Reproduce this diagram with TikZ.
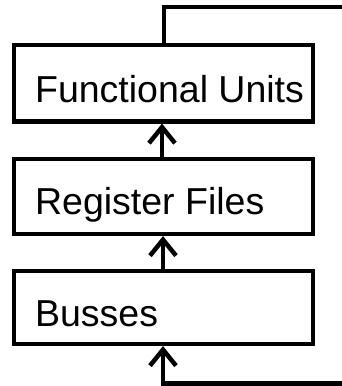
\documentclass[tikz,border=0pt]{standalone}
\usepackage{fontspec}
\setmainfont{Liberation Sans}
\usetikzlibrary{arrows.meta}
\begin{document}
\begin{tikzpicture}[x=1pt,y=-1pt,
  line width=4.2pt,
  stage/.style={draw, line width=4.2pt, rectangle, minimum width=299pt, inner sep=0pt},
  lbl/.style={anchor=base west, inner sep=0pt, font=\fontsize{37.5}{40}\selectfont},
  uparrow/.style={-{Straight Barb[length=16pt,width=26pt,line width=4.5pt]}}]
  \useasboundingbox (0,0) rectangle (342,386);

  % three stacked stages
  \node[stage, minimum height=76.5pt] (fu) at (163.5,83.25) {};
  \node[stage, minimum height=75pt]   (rf) at (163.5,196.5) {};
  \node[stage, minimum height=73pt]   (bu) at (163.5,307.5) {};

  \node[lbl] (fut) at (33,102) {Functional Units};
  \node[lbl] (rft) at (33,214) {Register Files};
  \node[lbl] (but) at (33,326.5) {Busses};

  % upward data flow between stages
  \draw[uparrow] (rf.north -| 162,0) -- (fu.south -| 162,0);
  \draw[uparrow] (bu.north -| 163,0) -- (rf.south -| 163,0);

  % feedback loop leaving at the top and re-entering at the bottom
  \coordinate (topR) at (344,7);
  \coordinate (botR) at (344,383.5);
  \draw (fu.north -| 164,0) -- (164,7) -- (topR);
  \draw[uparrow] (botR) -- (163,383.5) -- (bu.south -| 163,0);
\end{tikzpicture}
\end{document}
